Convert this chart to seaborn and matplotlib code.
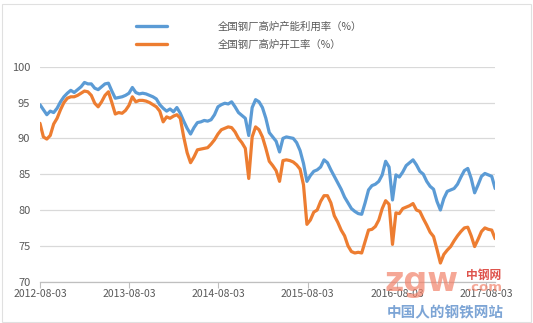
import numpy as np
import pandas as pd
import matplotlib
matplotlib.use("Agg")
import matplotlib.pyplot as plt
import seaborn as sns
from matplotlib.lines import Line2D

# ---- data (biweekly readings) ----
start_date = "2012-08-03"
n_points = 134
capacity_util = [
    94.7, 94.0, 93.3, 93.8, 93.6, 94.2, 95.1, 95.8, 96.3, 96.7,
    96.4, 96.8, 97.2, 97.8, 97.6, 97.6, 97.0, 96.8, 97.2, 97.6,
    97.7, 96.6, 95.6, 95.7, 95.8, 96.0, 96.3, 97.1, 96.4, 96.2,
    96.3, 96.2, 96.0, 95.8, 95.5, 94.7, 94.2, 93.8, 94.1, 93.7,
    94.3, 93.5, 92.4, 91.4, 90.6, 91.5, 92.2, 92.3, 92.5, 92.4,
    92.6, 93.3, 94.4, 94.7, 94.9, 94.8, 95.1, 94.4, 93.6, 93.2,
    92.8, 90.4, 94.3, 95.4, 95.1, 94.3, 92.8, 90.8, 90.2, 89.6,
    88.1, 90.0, 90.2, 90.1, 90.0, 89.4, 88.3, 86.5, 84.0, 84.8,
    85.4, 85.6, 86.0, 87.0, 86.6, 85.6, 84.7, 83.8, 82.9, 81.8,
    81.0, 80.2, 79.8, 79.5, 79.4, 81.0, 82.8, 83.4, 83.6, 84.0,
    84.9, 86.8, 86.0, 81.4, 84.9, 84.6, 85.3, 86.2, 86.6, 87.0,
    86.3, 85.4, 85.0, 84.0, 83.3, 82.9, 81.2, 80.0, 81.6, 82.6,
    82.8, 83.0, 83.6, 84.6, 85.5, 85.8, 84.4, 82.4, 83.5, 84.7,
    85.1, 84.9, 84.7, 83.0,
]
operating_rate = [
    92.1, 90.2, 89.9, 90.4, 92.0, 92.8, 94.0, 95.0, 95.6, 95.8,
    95.8, 96.0, 96.3, 96.6, 96.5, 96.0, 94.9, 94.4, 95.1, 96.0,
    96.5, 95.0, 93.4, 93.6, 93.5, 93.9, 94.6, 95.8, 95.1, 95.3,
    95.3, 95.2, 95.0, 94.7, 94.4, 93.8, 92.3, 93.0, 92.8, 93.1,
    93.3, 92.8, 90.2, 88.0, 86.6, 87.4, 88.4, 88.5, 88.6, 88.7,
    89.2, 89.8, 90.6, 91.2, 91.4, 91.6, 91.5, 90.9, 90.0, 89.4,
    88.6, 84.4, 90.2, 91.6, 91.2, 90.2, 88.6, 86.8, 86.2, 85.5,
    84.0, 86.9, 87.0, 86.9, 86.7, 86.3, 85.7, 83.5, 78.0, 78.6,
    79.7, 80.0, 81.2, 82.0, 82.0, 81.0, 79.2, 78.3, 77.2, 76.4,
    75.0, 74.2, 74.0, 74.1, 74.0, 75.6, 77.2, 77.3, 77.7, 78.6,
    80.2, 81.3, 80.8, 75.2, 79.6, 79.5, 80.2, 80.4, 80.6, 80.9,
    80.0, 79.8, 78.8, 77.9, 76.9, 76.3, 74.5, 72.6, 73.8, 74.4,
    74.9, 75.7, 76.4, 77.0, 77.5, 77.6, 76.4, 74.9, 75.9, 77.0,
    77.5, 77.3, 77.2, 76.0,
]
series_names = ["全国钢厂高炉产能利用率（%）", "全国钢厂高炉开工率（%）"]
tick_labels = ["2012-08-03", "2013-08-03", "2014-08-03", "2015-08-03",
               "2016-08-03", "2017-08-03"]
y_ticks = [70, 75, 80, 85, 90, 95, 100]

dates = pd.date_range(start_date, periods=n_points, freq="14D")
df = pd.concat([
    pd.DataFrame({"date": dates, "value": capacity_util, "series": series_names[0]}),
    pd.DataFrame({"date": dates, "value": operating_rate, "series": series_names[1]}),
])

# ---- style ----
sns.set_theme(style="white")
plt.rcParams["font.family"] = ["Noto Sans CJK SC", "DejaVu Sans"]

text_gray = "#595959"
fig = plt.figure(figsize=(5.33, 3.23), dpi=100)
ax = fig.add_axes([0.075, 0.128, 0.854, 0.6655])

sns.lineplot(data=df, x="date", y="value", hue="series",
             palette=["#5b9bd5", "#ed7d31"], linewidth=2.3, ax=ax,
             legend=False)

ax.set_ylim(70, 100)
ax.set_yticks(y_ticks)
ax.set_yticklabels([str(v) for v in y_ticks])
ax.set_xlim(dates[0], dates[-1])
tick_dates = pd.to_datetime(tick_labels)
ax.set_xticks(tick_dates)
ax.set_xticklabels(tick_labels)

ax.grid(axis="y", color="#d9d9d9", linewidth=0.9)
ax.set_axisbelow(True)
for s in ["left", "right", "top"]:
    ax.spines[s].set_visible(False)
ax.spines["bottom"].set_color("#bfbfbf")
ax.spines["bottom"].set_linewidth(0.9)
ax.tick_params(axis="y", length=0, labelsize=8, labelcolor=text_gray, pad=7)
ax.tick_params(axis="x", length=4, width=0.8, color="#bfbfbf", direction="out",
               labelsize=7.5, labelcolor=text_gray, pad=1, bottom=True)
ax.set_xlabel("")
ax.set_ylabel("")

# legend
handles = [Line2D([0], [0], color="#5b9bd5", lw=2.4),
           Line2D([0], [0], color="#ed7d31", lw=2.4)]
fig.legend(handles, series_names, loc="upper left",
           bbox_to_anchor=(0.238, 0.962), frameon=False, fontsize=7.5,
           handlelength=3.0, handletextpad=4.8, labelspacing=0.75,
           labelcolor=text_gray)

# watermark
fig.text(0.722, 0.1, "zgw", fontsize=24, fontweight="bold", color="#f2826a",
         alpha=0.7, ha="left", va="baseline", family="DejaVu Sans", zorder=0)
fig.text(0.875, 0.138, "中钢网", fontsize=8.5, fontweight="bold", color="#d9362e",
         alpha=0.85, ha="left", va="baseline", zorder=0)
fig.text(0.876, 0.1, ".com", fontsize=9.5, fontweight="bold", color="#f2826a",
         alpha=0.7, ha="left", va="baseline", family="DejaVu Sans", zorder=0)
fig.text(0.835, 0.018, "中国人的钢铁网站", fontsize=10.5, fontweight="bold",
         color="#6f9bd1", alpha=0.9, ha="center", va="baseline")

# faint frame border
fig.patches.append(plt.Rectangle((0.003, 0.003), 0.994, 0.985, transform=fig.transFigure,
                                 fill=False, edgecolor="#e0e0e0", linewidth=0.8))

fig.savefig("out.png", dpi=100)
